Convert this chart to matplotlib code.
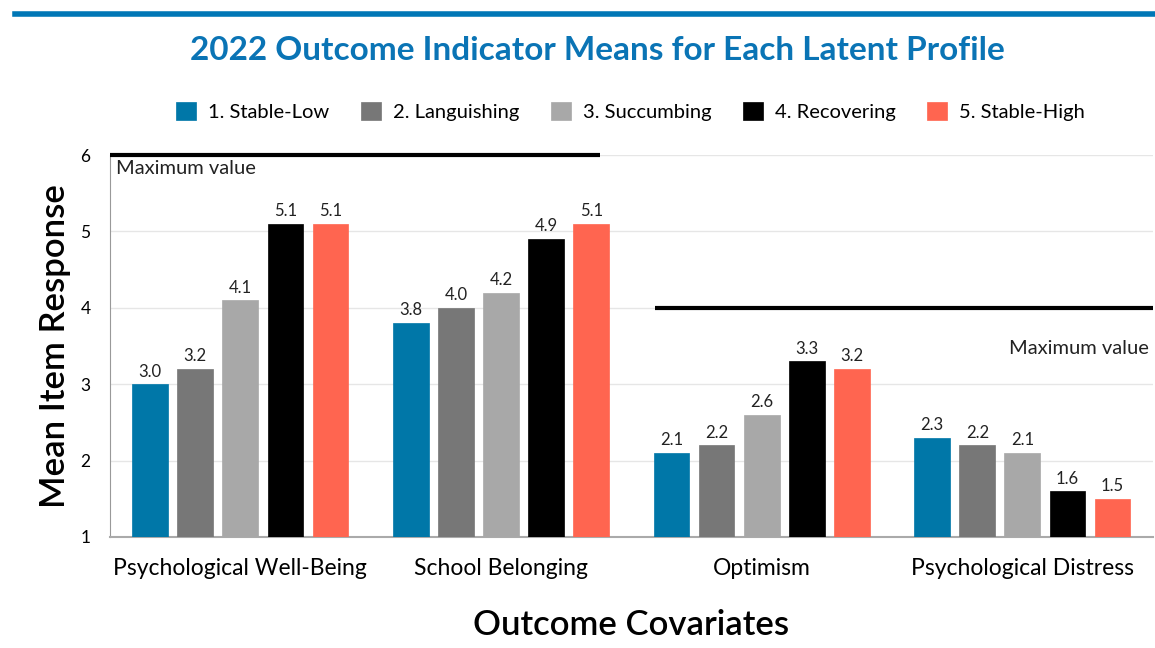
import numpy as np
import matplotlib
matplotlib.use("Agg")
import matplotlib.pyplot as plt
from matplotlib.lines import Line2D

plt.rcParams['font.family'] = ['Lato', 'DejaVu Sans']

# data
categories = ["Psychological Well-Being", "School Belonging", "Optimism", "Psychological Distress"]
profiles = ["1. Stable-Low", "2. Languishing", "3. Succumbing", "4. Recovering", "5. Stable-High"]
stable_low = [3.0, 3.8, 2.1, 2.3]
languishing = [3.2, 4.0, 2.2, 2.2]
succumbing = [4.1, 4.2, 2.6, 2.1]
recovering = [5.1, 4.9, 3.3, 1.6]
stable_high = [5.1, 5.1, 3.2, 1.5]
max_values = [6, 4]  # max value for first two and last two covariates

series = [stable_low, languishing, succumbing, recovering, stable_high]
colors = ["#0077a8", "#777777", "#a8a8a8", "#000000", "#ff6550"]

fig = plt.figure(figsize=(11.55, 6.48), dpi=100)
ax = fig.add_axes([0.0952, 0.1713, 0.9028, 0.5895])

x = np.arange(len(categories))
step = 0.173
width = 0.137
for i, (vals, col) in enumerate(zip(series, colors)):
    pos = x + (i - 2) * step
    ax.bar(pos, np.array(vals) - 1, bottom=1, width=width, color=col,
           edgecolor=col, linewidth=0.5, zorder=3, label=profiles[i])
    for p, v in zip(pos, vals):
        ax.text(p, v + 0.06, f"{v:.1f}", ha='center', va='bottom',
                fontsize=12, color='#222222', zorder=4)

ax.set_xlim(-0.5, 3.5)
ax.set_ylim(1, 6)
ax.set_yticks([1, 2, 3, 4, 5, 6])
ax.set_xticks(x)
ax.set_xticklabels(categories, fontsize=16.5)
ax.tick_params(axis='y', labelsize=12.5, length=0, pad=14)
ax.tick_params(axis='x', length=0, pad=15)
ax.yaxis.grid(True, color='#e6e6e6', linewidth=1, zorder=0)
ax.set_axisbelow(True)
for s in ['top', 'right']:
    ax.spines[s].set_visible(False)
ax.spines['left'].set_color('#999999')
ax.spines['left'].set_linewidth(0.8)
ax.spines['bottom'].set_color('#aaaaaa')
ax.spines['bottom'].set_linewidth(1.5)

# maximum value lines
ax.plot([-0.5, 1.38], [max_values[0]] * 2, color='black', linewidth=3,
        solid_capstyle='butt', zorder=5, clip_on=False)
ax.text(-0.475, max_values[0] - 0.06, "Maximum value", ha='left', va='top',
        fontsize=14.5, color='#222222')
ax.plot([1.59, 3.5], [max_values[1]] * 2, color='black', linewidth=3,
        solid_capstyle='butt', zorder=5)
ax.text(3.485, max_values[1] - 0.53, "Maximum value", ha='right', va='center',
        fontsize=14.5, color='#222222')

ax.set_ylabel("Mean Item Response", fontsize=25, fontweight='semibold', labelpad=7)
ax.set_xlabel("Outcome Covariates", fontsize=25, fontweight='semibold', labelpad=22)

fig.text(0.517, 0.922, "2022 Outcome Indicator Means for Each Latent Profile",
         ha='center', va='center', fontsize=24, fontweight='bold', color='#0a74b5')

fig.add_artist(Line2D([15 / 1155, 1.0], [1 - 14 / 648] * 2, color='#0077b6',
                      linewidth=4))

fig.legend(loc='center', bbox_to_anchor=(0.546, 0.828), ncol=5, frameon=False,
           fontsize=14.5, handlelength=1.0, handleheight=1.0, columnspacing=1.55,
           handletextpad=0.6)

fig.savefig("out.png", dpi=100)
